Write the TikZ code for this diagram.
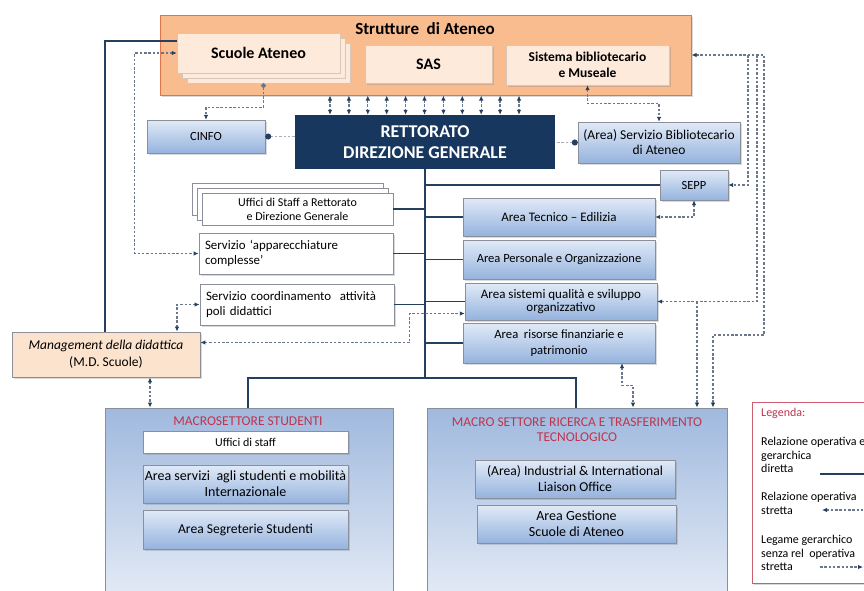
\documentclass[tikz,border=0pt]{standalone}
\usepackage{fontspec}
\setmainfont{Carlito}
\usetikzlibrary{calc}
\usetikzlibrary{scopes}
\usetikzlibrary{shadows}
\usetikzlibrary{arrows.meta}

\definecolor{navy}{HTML}{17375E}
\definecolor{lineblue}{HTML}{243F60}
\definecolor{dotgray}{HTML}{6B778A}
\definecolor{strutfill}{HTML}{F9BC8F}
\definecolor{strutdraw}{HTML}{E2734A}
\definecolor{cream}{HTML}{FDEADA}
\definecolor{peach}{HTML}{FCE3CD}
\definecolor{bluetop}{HTML}{E1EAF7}
\definecolor{bluebot}{HTML}{95B3DE}
\definecolor{macrotop}{HTML}{A0B9DE}
\definecolor{macrobot}{HTML}{E4EBF6}
\definecolor{boxgray}{HTML}{8A8F99}
\definecolor{titlered}{HTML}{C0344E}

\begin{document}
\begin{tikzpicture}[x=1pt,y=-1pt,
    >={Latex[length=5pt,width=4.5pt,color=lineblue]},
    rel/.style={draw=lineblue,line width=1.6pt},
    op/.style={draw=dotgray,line width=1.3pt,dash pattern=on 2.5pt off 1.8pt},
    opl/.style={draw=dotgray!60,line width=1.2pt,dash pattern=on 2.5pt off 1.8pt},
    shad/.style={drop shadow={shadow xshift=1.5pt,shadow yshift=-1.5pt,opacity=.3}},
    strut/.style={rectangle,draw=strutdraw,fill=strutfill,line width=1pt,minimum width=531pt,minimum height=80pt,shad},
    sub/.style={rectangle,draw=cream!85!black,fill=cream,font=\bfseries\fontsize{16}{18}\selectfont},
    head/.style={rectangle,fill=navy,text=white,align=center,font=\bfseries\fontsize{18}{21}\selectfont},
    blu/.style={rectangle,draw=boxgray,top color=bluetop,bottom color=bluebot,inner sep=2pt,align=center,font=\fontsize{13}{13}\selectfont,shad},
    wht/.style={rectangle,draw=boxgray,fill=white,line width=.8pt,font=\fontsize{12.9}{15}\selectfont,shad},
    macro/.style={rectangle,draw=boxgray,top color=macrotop,bottom color=macrobot,line width=.8pt},
    tit/.style={text=titlered,align=center,font=\fontsize{13.5}{15}\selectfont},
    leg/.style={anchor=north west,inner sep=0pt,align=left,font=\fontsize{12}{13.5}\selectfont},
]
    \useasboundingbox (0,0) rectangle (864,590);
    \clip (0,0) rectangle (864,590);

    % Strutture di Ateneo
    \node[strut] (strut) at (425.5,55) {};
    \node[font=\bfseries\fontsize{17}{19}\selectfont] (strutT) at (425,29) {Strutture\ \ di Ateneo};
    \node[sub,minimum width=163pt,minimum height=40pt,double copy shadow={shadow xshift=5pt,shadow yshift=-5pt}] (scuole) at (258.5,53) {Scuole Ateneo};
    \node[sub,minimum width=127pt,minimum height=38pt,shad] (sas) at (428.5,64) {SAS};
    \node[sub,minimum width=163pt,minimum height=40pt,shad,align=center,font=\bfseries\fontsize{13.5}{16}\selectfont] (sist) at (587.5,65) {Sistema bibliotecario\\e Museale};

    % Rettorato e servizi vicini
    \node[head,minimum width=260pt,minimum height=54pt] (rett) at (425,142) {RETTORATO\\DIREZIONE GENERALE};
    \node[blu,minimum width=118pt,minimum height=33pt,font=\fontsize{12.5}{14}\selectfont] (cinfo) at (206,136.5) {CINFO};
    \node[blu,minimum width=162pt,minimum height=41pt,font=\fontsize{13.5}{15}\selectfont] (sba) at (659,142.5) {(Area) Servizio Bibliotecario\\di Ateneo};
    \node[blu,minimum width=68pt,minimum height=30pt,font=\fontsize{12.5}{14}\selectfont] (sepp) at (694,185) {SEPP};

    % aree a destra
    \node[blu,minimum width=192pt,minimum height=38pt] (tec) at (559,217) {Area Tecnico – Edilizia};
    \node[blu,minimum width=192pt,minimum height=39pt,font=\fontsize{12.5}{14}\selectfont] (pers) at (559,259.5) {Area Personale e Organizzazione};
    \node[blu,minimum width=192pt,minimum height=37pt] (qual) at (561,301.5) {Area sistemi qualità e sviluppo\\organizzativo};
    \node[blu,minimum width=192pt,minimum height=40pt,font=\fontsize{12.6}{16}\selectfont] (ris) at (559,343) {Area\ \ risorse finanziarie e\\patrimonio};

    % uffici a sinistra
    \node[rectangle,draw=boxgray,fill=white,line width=.8pt,minimum width=191pt,minimum height=32pt,align=center,font=\fontsize{12}{14}\selectfont,double copy shadow={shadow xshift=-5pt,shadow yshift=5pt}] (staff) at (297.5,209) {Uffici di Staff a Rettorato\\e Direzione Generale};
    \node[wht,minimum width=194pt,minimum height=41pt,text width=182pt,align=left] (appar) at (296,253.5) {Servizio\ ‘apparecchiature\\complesse’};
    \node[wht,minimum width=194pt,minimum height=41pt,text width=182pt,align=left] (coord) at (297,304.5) {Servizio\ coordinamento\ \ attività\\poli didattici};
    \node[rectangle,draw=boxgray,fill=peach,line width=.8pt,minimum width=188pt,minimum height=45pt,align=center,font=\fontsize{13.5}{17}\selectfont,shad] (md) at (106,354.5) {\textit{Management della didattica}\\(M.D. Scuole)};

    % macrosettori
    \node[macro,minimum width=288pt,minimum height=192pt] (macS) at (249,504) {};
    \node[tit] (macST) at (248,421) {MACROSETTORE STUDENTI};
    \node[wht,minimum width=205pt,minimum height=22pt,font=\fontsize{12}{13}\selectfont] (uffS) at (245.5,442) {Uffici di staff};
    \node[blu,minimum width=205pt,minimum height=38pt,inner sep=1pt,font=\fontsize{14}{16}\selectfont] (servS) at (245.5,484) {Area servizi\ \ agli studenti e mobilità\\Internazionale};
    \node[blu,minimum width=205pt,minimum height=39pt,font=\fontsize{13.6}{16}\selectfont] (segS) at (245.5,529.5) {Area Segreterie Studenti};

    \node[macro,minimum width=300pt,minimum height=192pt] (macR) at (577,504) {};
    \node[tit] (macRT) at (577,429.5) {MACRO SETTORE RICERCA E TRASFERIMENTO\\TECNOLOGICO};
    \node[blu,minimum width=200pt,minimum height=38pt,font=\fontsize{13.6}{16}\selectfont] (ilo) at (575,479) {(Area) Industrial \& International\\Liaison Office};
    \node[blu,minimum width=199pt,minimum height=38pt,font=\fontsize{14}{16}\selectfont] (gest) at (576.5,524) {Area Gestione\\Scuole di Ateneo};

    % legenda
    \node[rectangle,draw=titlered!80,fill=white,line width=.8pt,minimum width=148pt,minimum height=181pt,shad] (leg) at (826,492.5) {};
    \node[leg,text=titlered] (legT) at (761,408) {Legenda:};
    \node[leg] (leg1) at (761,437) {Relazione operativa e\\gerarchica\\diretta};
    \node[leg] (leg2) at (761,492) {Relazione operativa\\stretta};
    \node[leg] (leg3) at (761,535) {Legame gerarchico\\senza rel\ \ operativa\\stretta};
    \coordinate (l1a) at (820,474);
    \coordinate (l1b) at (880,474);
    \coordinate (l2a) at (822,510);
    \coordinate (l2b) at (880,510);
    \coordinate (l3a) at (820,567);
    \coordinate (l3b) at (863,567);
    \draw[rel] (l1a) -- (l1b);
    \draw[op,<-] (l2a) -- (l2b);
    \draw[op,->] (l3a) -- (l3b);

    % relazione gerarchica diretta
    \draw[rel] (rett.south) -- (rett.south |- 0,378) coordinate (trunk);
    \draw[rel] (macS.north -| 248,0) |- (trunk) -| (macR.north -| 576,0);
    \foreach \n in {sepp,tec,pers,qual,ris}
        \draw[rel] (\n.west) -- (\n.west -| rett.south);
    \foreach \n in {staff,appar,coord}
        \draw[rel] (\n.east) -- (\n.east -| rett.south);
    \draw[rel] (scuole.west |- 0,41) -| (md.north -| 105,0);

    % Strutture <-> Rettorato
    \foreach \i [evaluate=\i as \xx using 330+18.9*\i] in {0,...,10}
        \draw[op,<->] (\xx,0 |- strut.south) -- (\xx,0 |- rett.north);

    % relazioni operative
    \draw[op,<->] (scuole.west) -- ++(-42,0) |- (appar.west);
    \draw[op,{Circle[length=5pt]}->] ([xshift=5pt,yshift=-10pt]scuole.south) -- ++(0,24) -| (cinfo.north);
    \draw[op,<->] (sist.south) -- ++(0,18) -| (sba.north);
    \draw[op,<->] (strut.east) -| (764,335) -| (713,0 |- macR.north);
    \draw[op,->] (748,0 |- strut.east) |- (sepp.east);
    \draw[op,->] (757,0 |- strut.east) |- (qual.east);
    \draw[op,->] (697,0 |- qual.east) -- (697,0 |- macR.north);
    \draw[op,<->] (sepp.south) |- (tec.east);
    \draw[op,<->] (622,0 |- ris.south) -- ++(0,22) -| (633,0 |- macR.north);
    \draw[op,<->] (177,0 |- md.north) |- (coord.west);
    \draw[op,<->] ([yshift=12pt]md.east) -| ([xshift=-55pt,yshift=-12pt]qual.west) -- ([yshift=-12pt]qual.west);
    \draw[op,<->] (150,0 |- md.south) -- (150,0 |- macS.north);
    \draw[opl,{Circle[length=6pt,color=lineblue]}-] (cinfo.east) -- (cinfo.east -| rett.west);
    \draw[opl,{Circle[length=6pt,color=lineblue]}-] (sba.west) -- (sba.west -| rett.east);
\end{tikzpicture}
\end{document}
